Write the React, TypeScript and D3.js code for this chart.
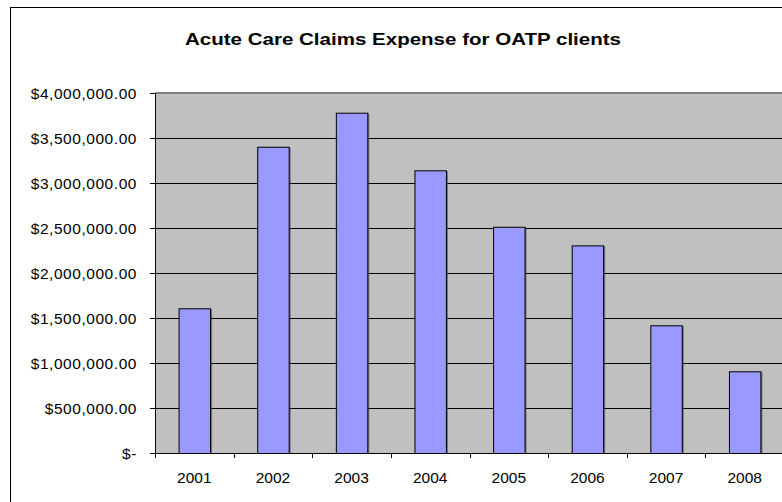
import React from "react";
import * as d3 from "d3";

const years = ["2001", "2002", "2003", "2004", "2005", "2006", "2007", "2008"];
const expense = [1608000, 3403000, 3781000, 3141000, 2514000, 2307000, 1419000, 908000];
const yTicks = [0, 500000, 1000000, 1500000, 2000000, 2500000, 3000000, 3500000, 4000000];
const title = "Acute Care Claims Expense for OATP clients";

const fmt = (v: number) => (v === 0 ? "$-" : "$" + d3.format(",.2f")(v));

export default function App() {
  const W = 782, H = 502;
  const left = 155, top = 93, bottom = 453, right = 784;
  const x = d3.scaleBand<string>().domain(years).range([left, right]).paddingInner(0.6).paddingOuter(0.3);
  const xc = d3.scaleBand<string>().domain(years).range([left, right]);
  const y = d3.scaleLinear().domain([0, 4000000]).range([bottom, top]);
  const font = "Arial, 'Liberation Sans', sans-serif";
  return (
    <svg width={W} height={H} style={{ position: "absolute", left: 0, top: 0 }} fontFamily={font}>
      <rect x={0} y={0} width={W} height={H} fill="#fff" />
      <rect x={10.5} y={7.5} width={W + 20} height={H + 20} fill="#fff" stroke="#000" strokeWidth={1} />
      <text x={185} y={44.5} fontSize={17} fontWeight="bold" textLength={436} lengthAdjust="spacingAndGlyphs">{title}</text>
      <rect x={left} y={top} width={right - left} height={bottom - top} fill="#C0C0C0" />
      <line x1={left} x2={right} y1={top} y2={top} stroke="#808080" strokeWidth={2} />
      {yTicks.slice(1, -1).map((t) => (
        <line key={t} x1={left} x2={right} y1={Math.round(y(t)) + 0.5} y2={Math.round(y(t)) + 0.5} stroke="#000" />
      ))}
      {years.map((yr, i) => {
        const bx = x(yr)!;
        const by = y(expense[i]);
        return (
          <g key={yr}>
            <rect x={bx + 2} y={by + 1} width={x.bandwidth()} height={bottom - by - 1} fill="#404040" opacity={0.6} />
            <rect x={bx + 0.5} y={by + 0.5} width={x.bandwidth()} height={bottom - by} fill="#9999FF" stroke="#000" strokeWidth={1} />
          </g>
        );
      })}
      <line x1={left + 0.5} x2={left + 0.5} y1={top} y2={bottom + 5} stroke="#000" />
      <line x1={left} x2={right} y1={bottom + 0.5} y2={bottom + 0.5} stroke="#000" />
      {yTicks.map((t) => (
        <g key={t}>
          <line x1={left - 5} x2={left} y1={Math.round(y(t)) + 0.5} y2={Math.round(y(t)) + 0.5} stroke="#000" />
          <text x={137} y={y(t)} dy="0.36em" textAnchor="end" fontSize={15.5} letterSpacing={0.55}>{fmt(t)}</text>
        </g>
      ))}
      {years.map((yr) => (
        <g key={yr}>
          <line x1={Math.round(xc(yr)!) + 0.5} x2={Math.round(xc(yr)!) + 0.5} y1={bottom} y2={bottom + 5} stroke="#000" />
          <text x={xc(yr)! + xc.bandwidth() / 2} y={483} textAnchor="middle" fontSize={15.5}>{yr}</text>
        </g>
      ))}
    </svg>
  );
}
